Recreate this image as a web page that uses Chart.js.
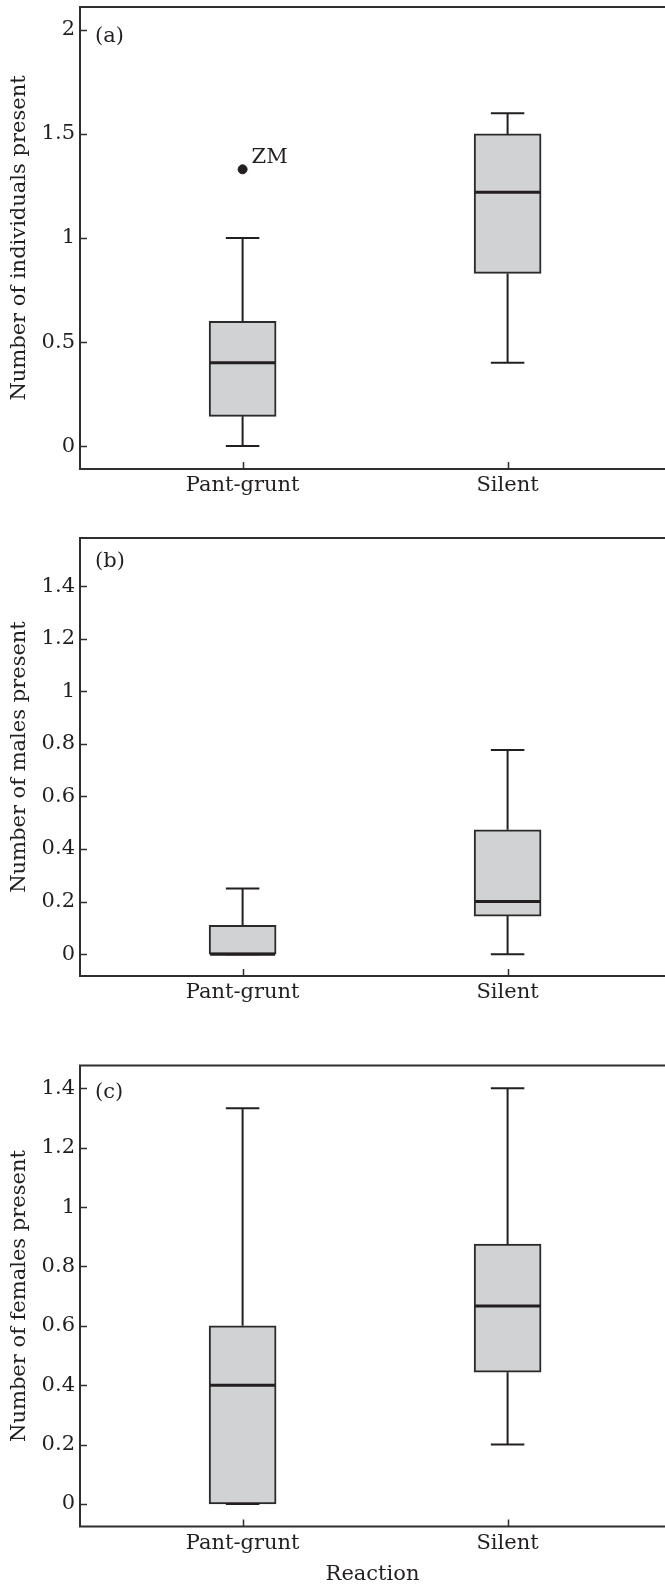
<!DOCTYPE html>
<html>
<head>
<meta charset="utf-8">
<script src="https://cdn.jsdelivr.net/npm/chart.js@4.4.1/dist/chart.umd.min.js"></script>
<style>
  html, body { margin: 0; padding: 0; background: #fff; overflow: hidden; }
  canvas { position: absolute; left: 0; display: block; }
</style>
</head>
<body>
<canvas id="chartA" width="665" height="520" style="top:0px"></canvas>
<canvas id="chartB" width="665" height="520" style="top:520px"></canvas>
<canvas id="chartC" width="665" height="546" style="top:1040px"></canvas>
<script>
// Categories on the x axis
const categories = ["Pant-grunt", "Silent"];

// (a) number of individuals present
const indivMin = [0, 0.4];
const indivQ1 = [0.143, 0.83];
const indivMedian = [0.4, 1.22];
const indivQ3 = [0.6, 1.5];
const indivMax = [1.0, 1.6];
const indivOutlierCat = [0];
const indivOutlierVal = [1.33];
const indivOutlierLabel = ["ZM"];

// (b) number of males present
const malesMin = [0, 0];
const malesQ1 = [0, 0.145];
const malesMedian = [0, 0.2];
const malesQ3 = [0.11, 0.473];
const malesMax = [0.25, 0.777];

// (c) number of females present
const femalesMin = [0, 0.2];
const femalesQ1 = [0, 0.444];
const femalesMedian = [0.4, 0.667];
const femalesQ3 = [0.6, 0.875];
const femalesMax = [1.333, 1.4];

// tick labels
const yTicksA = [0, 0.5, 1, 1.5, 2];
const yTicksB = [0, 0.2, 0.4, 0.6, 0.8, 1, 1.2, 1.4];
const yTicksC = [0, 0.2, 0.4, 0.6, 0.8, 1, 1.2, 1.4];

const FONT = "'DejaVu Serif', 'Liberation Serif', serif";
const FSIZE = 21;
const INK = "#231f20";
const BOX_FILL = "#d1d2d4";

function makePanel(id, p) {
  // box = floating bar from Q1 to Q3
  const boxData = categories.map((c, i) => ({ x: i, y: [p.q1[i], p.q3[i]] }));
  const datasets = [{
    type: "bar",
    data: boxData,
    backgroundColor: BOX_FILL,
    borderColor: "#2a2a2a",
    borderWidth: 2,
    borderSkipped: false,
    barThickness: 67,
  }];
  if (p.outCat) {
    datasets.push({
      type: "scatter",
      data: p.outCat.map((c, i) => ({ x: c, y: p.outVal[i] })),
      backgroundColor: INK,
      borderColor: INK,
      pointRadius: 4.5,
    });
  }

  // whiskers, medians, frame, inner ticks, panel letter
  const boxPlugin = {
    id: "boxExtras",
    afterDatasetsDraw(chart) {
      const ctx = chart.ctx;
      const xs = chart.scales.x, ys = chart.scales.y;
      const area = chart.chartArea;
      const bars = chart.getDatasetMeta(0).data;
      ctx.save();
      ctx.strokeStyle = INK;
      ctx.lineCap = "butt";
      categories.forEach((c, i) => {
        const cx = xs.getPixelForValue(i);
        const half = bars[i].width / 2;
        const cap = half / 2;
        const yMin = ys.getPixelForValue(p.min[i]);
        const yMax = ys.getPixelForValue(p.max[i]);
        const yQ1 = ys.getPixelForValue(p.q1[i]);
        const yQ3 = ys.getPixelForValue(p.q3[i]);
        const yMed = ys.getPixelForValue(p.median[i]);
        ctx.lineWidth = 2;
        ctx.beginPath();
        ctx.moveTo(cx, yQ3); ctx.lineTo(cx, yMax);
        ctx.moveTo(cx, yQ1); ctx.lineTo(cx, yMin);
        ctx.moveTo(cx - cap, yMax); ctx.lineTo(cx + cap, yMax);
        ctx.moveTo(cx - cap, yMin); ctx.lineTo(cx + cap, yMin);
        ctx.stroke();
        ctx.lineWidth = 3;
        ctx.beginPath();
        ctx.moveTo(cx - half + 1, yMed); ctx.lineTo(cx + half - 1, yMed);
        ctx.stroke();
      });

      // frame (no right side, it runs off the page)
      ctx.strokeStyle = "#2e2e2e";
      ctx.lineWidth = 2;
      ctx.beginPath();
      ctx.moveTo(area.right, area.top); ctx.lineTo(area.left, area.top);
      ctx.lineTo(area.left, area.bottom); ctx.lineTo(area.right, area.bottom);
      ctx.stroke();

      // inward tick marks
      ctx.lineWidth = 1.5;
      ctx.beginPath();
      p.yTicks.forEach(v => {
        const py = Math.round(ys.getPixelForValue(v)) + 0.5;
        ctx.moveTo(area.left, py); ctx.lineTo(area.left + 7, py);
      });
      categories.forEach((c, i) => {
        const px = Math.round(xs.getPixelForValue(i)) + 0.5;
        ctx.moveTo(px, area.bottom); ctx.lineTo(px, area.bottom - 7);
      });
      ctx.stroke();

      // text labels
      ctx.fillStyle = INK;
      ctx.font = FSIZE + "px " + FONT;
      ctx.textBaseline = "middle";
      ctx.textAlign = "left";
      ctx.fillText(p.letter, area.left + 15, area.top + p.letterDy);
      if (p.outCat) {
        p.outCat.forEach((c, i) => {
          const px = xs.getPixelForValue(c);
          const py = ys.getPixelForValue(p.outVal[i]);
          ctx.fillText(p.outLabel[i], px + 9, py - 12);
        });
      }
      ctx.restore();
    }
  };

  return new Chart(document.getElementById(id), {
    data: { datasets: datasets },
    plugins: [boxPlugin],
    options: {
      responsive: false,
      animation: false,
      layout: { autoPadding: false, padding: { top: p.padTop, left: 0, right: 0, bottom: 0 } },
      plugins: { legend: { display: false }, tooltip: { enabled: false } },
      scales: {
        x: {
          type: "linear",
          min: -0.6136,
          max: 1.594,
          offset: false,
          grid: { display: false, drawTicks: false },
          border: { display: false },
          afterBuildTicks: s => { s.ticks = categories.map((c, i) => ({ value: i })); },
          afterFit: s => { s.height = p.xHeight; s.paddingLeft = 0; s.paddingRight = 0; },
          ticks: {
            autoSkip: false,
            maxRotation: 0,
            padding: 4,
            color: INK,
            font: { family: FONT, size: FSIZE },
            callback: v => categories[v],
          },
          title: {
            display: !!p.xTitle,
            text: p.xTitle || "",
            color: INK,
            font: { family: FONT, size: FSIZE, lineHeight: 1.1 },
            padding: { top: 0, bottom: 0 },
          },
        },
        y: {
          min: p.yMin,
          max: p.yMax,
          grid: { display: false, drawTicks: false },
          border: { display: false },
          afterBuildTicks: s => { s.ticks = p.yTicks.map(v => ({ value: v })); },
          afterFit: s => { s.width = 80; s.paddingTop = 0; s.paddingBottom = 0; },
          ticks: {
            padding: 5,
            color: INK,
            font: { family: FONT, size: FSIZE },
            callback: v => String(v),
          },
          title: {
            display: true,
            text: p.yTitle,
            color: INK,
            font: { family: FONT, size: FSIZE },
            padding: { top: 7, bottom: 0 },
          },
        },
      },
    },
  });
}

makePanel("chartA", {
  min: indivMin, q1: indivQ1, median: indivMedian, q3: indivQ3, max: indivMax,
  outCat: indivOutlierCat, outVal: indivOutlierVal, outLabel: indivOutlierLabel,
  yTicks: yTicksA, yMin: -0.11, yMax: 2.11,
  yTitle: "Number of individuals present",
  letter: "(a)", letterDy: 30, padTop: 7, xHeight: 51,
});

makePanel("chartB", {
  min: malesMin, q1: malesQ1, median: malesMedian, q3: malesQ3, max: malesMax,
  yTicks: yTicksB, yMin: -0.083, yMax: 1.583,
  yTitle: "Number of males present",
  letter: "(b)", letterDy: 24, padTop: 18, xHeight: 64,
});

makePanel("chartC", {
  min: femalesMin, q1: femalesQ1, median: femalesMedian, q3: femalesQ3, max: femalesMax,
  yTicks: yTicksC, yMin: -0.076, yMax: 1.477,
  yTitle: "Number of females present",
  xTitle: "Reaction",
  letter: "(c)", letterDy: 27, padTop: 25.5, xHeight: 59.5,
});
</script>
</body>
</html>
